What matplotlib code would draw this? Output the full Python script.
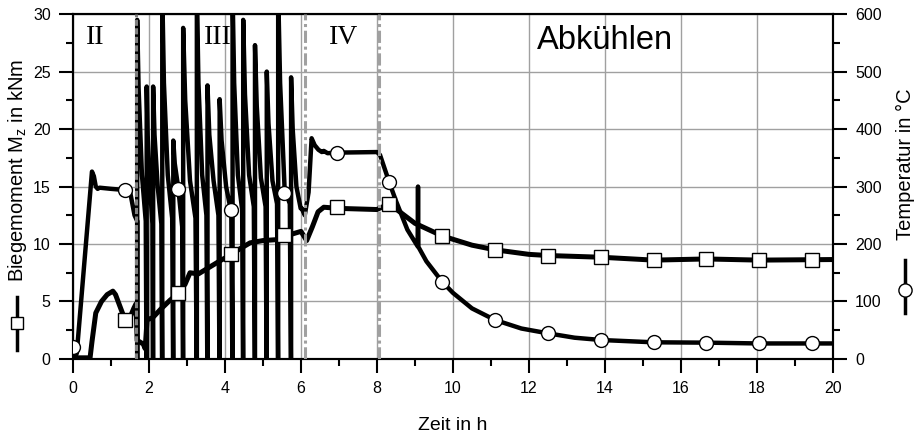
import numpy as np
import matplotlib
matplotlib.use("Agg")
import matplotlib.pyplot as plt
from matplotlib.lines import Line2D

plt.rcParams['font.family'] = ['Liberation Sans', 'DejaVu Sans']

# --- Biegemoment (kNm), Linie ---
mom_t = [0, 0.08, 0.45, 0.5, 0.6, 0.75, 0.9, 1.05, 1.12, 1.37, 1.5, 1.6, 1.66,
         1.69, 1.75, 1.85, 1.9, 1.95, 2.1, 2.3, 2.55, 2.77, 2.95, 3.08, 3.3, 3.6,
         3.9, 4.18, 4.4, 4.66, 5.0, 5.45, 5.7, 6.0, 6.15, 6.3, 6.45, 6.6, 7.0,
         8.0, 8.32, 8.6, 9.0, 9.72, 10.5, 11.1, 12.0, 12.5, 13.9, 15.28, 16.67,
         18.06, 20]
mom_v = [0.8, 0.1, 0.1, 1.5, 4.0, 5.0, 5.6, 5.9, 5.6, 3.4, 3.6, 4.4, 4.8,
         1.6, 1.5, 1.3, 0.9, 3.4, 3.6, 4.3, 5.1, 5.7, 6.5, 7.5, 7.4, 8.0,
         8.6, 9.1, 9.6, 10.1, 10.3, 10.4, 10.8, 11.1, 10.3, 11.5, 12.8, 13.2, 13.1,
         13.0, 13.5, 12.8, 11.8, 10.7, 9.9, 9.5, 9.1, 9.0, 8.85, 8.6, 8.7,
         8.6, 8.65]

# --- Temperatur (°C), Phase II ---
tem2_t = [0, 0.07, 0.1, 0.5, 0.55, 0.6, 0.65, 0.7, 1.0, 1.37, 1.5, 1.62, 1.69]
tem2_v = [20, 5, 10, 326, 318, 300, 296, 298, 296, 294, 292, 250, 240]

# Phase III: Zyklen (Start, Spitze, Knick, Mitte, Ende)
cyc_t = [1.69, 1.94, 2.11, 2.35, 2.64, 2.90, 3.26, 3.54, 3.86, 4.20, 4.48, 4.79, 5.10, 5.40, 5.74]
cyc_peak = [590, 474, 474, 640, 380, 576, 640, 476, 452, 640, 590, 546, 500, 640, 490]
cyc_knee = [470, 390, 390, 480, 340, 450, 480, 390, 380, 480, 460, 440, 410, 480, 400]
cyc_mid = [320, 300, 300, 320, 298, 310, 320, 310, 300, 320, 320, 315, 310, 295, 300]
cyc_end = [240, 235, 235, 245, 230, 245, 250, 250, 255, 260, 265, 265, 270, 270, 262]
cyc_stop = 6.02

# Phase IV + Abkühlen
tem4_t = [6.1, 6.2, 6.28, 6.36, 6.46, 6.55, 6.6, 6.7, 6.94, 8.0, 8.08, 8.32, 8.5,
          8.8, 9.07, 9.08, 9.09, 9.3, 9.72, 10.0, 10.5, 11.1, 11.8, 12.5, 13.2,
          13.9, 15.28, 16.67, 18.06, 20]
tem4_v = [250, 290, 384, 372, 364, 360, 362, 358, 359, 360, 355, 308, 275,
          225, 196, 300, 195, 170, 134, 115, 88, 68, 53, 44.6, 37,
          33, 29, 28.4, 27, 27]

# Marker
mk_t = [0, 1.37, 2.77, 4.17, 5.55, 6.94, 8.32, 9.72, 11.1, 12.5, 13.9, 15.28, 16.67, 18.06, 19.45]
mk_temp = [20, 294, 296, 260, 288, 359, 308, 134, 68, 44.6, 33, 29, 28.4, 27, 27]
mk_mom_t = mk_t[1:]
mk_mom = [3.4, 5.7, 9.1, 10.8, 13.2, 13.5, 10.7, 9.5, 9.0, 8.85, 8.6, 8.7, 8.6, 8.6]

phase_x = [1.67, 6.1, 8.05]
phase_lbl = ['II', 'III', 'IV']
phase_lbl_x = [0.59, 3.80, 7.11]

# Temperaturkurve zusammensetzen
tem_t = list(tem2_t)
tem_v = list(tem2_v)
for i in range(len(cyc_t)):
    t0 = cyc_t[i]
    t1 = cyc_t[i + 1] if i + 1 < len(cyc_t) else cyc_stop
    d = t1 - t0
    tem_t += [t0, t0, t0 + 0.15 * d, t0 + 0.5 * d, t0 + 0.9 * d]
    tem_v += [0, cyc_peak[i], cyc_knee[i], cyc_mid[i], cyc_end[i]]
    if i + 1 < len(cyc_t):
        tem_t += [t1 - 0.006]
        tem_v += [0]
    else:
        tem_t += [t1]
        tem_v += [cyc_end[i]]
tem_t += tem4_t
tem_v += tem4_v

fig = plt.figure(figsize=(9.19, 4.41), dpi=100)
ax = fig.add_axes([0.0794, 0.186, 0.827, 0.782])
ax2 = ax.twinx()

ax.set_xlim(0, 20)
ax.set_ylim(0, 30)
ax2.set_ylim(0, 600)

ax.set_xticks(np.arange(0, 21, 2))
ax.set_xticks(np.arange(1, 20, 2), minor=True)
ax.set_yticks(np.arange(0, 31, 5))
ax.set_yticks(np.arange(2.5, 30, 5), minor=True)
ax2.set_yticks(np.arange(0, 601, 100))
ax2.set_yticks(np.arange(50, 600, 100), minor=True)

ax.grid(True, which='major', color='#a0a0a0', lw=1.0)
ax.set_axisbelow(True)

ax.tick_params(axis='both', which='major', direction='out', length=10, width=1.5,
               labelsize=11.5, pad=6)
ax.tick_params(axis='both', which='minor', direction='out', length=5, width=1.5)
ax2.tick_params(axis='y', which='major', direction='out', length=10, width=1.5,
                labelsize=11.5, pad=6)
ax2.tick_params(axis='y', which='minor', direction='out', length=5, width=1.5)

for a in (ax, ax2):
    for s in a.spines.values():
        s.set_linewidth(1.5)
        s.set_color('black')

ax.plot(mom_t, mom_v, color='black', lw=3.6, solid_joinstyle='round')
ax2.plot(tem_t, tem_v, color='black', lw=3.2, solid_joinstyle='round')

# Phasengrenzen
ax2.axvline(phase_x[0], color='#808080', lw=2.2, ls=(0, (2, 0.8)), zorder=4)
for px in phase_x[1:]:
    ax2.axvline(px, color='#a0a0a0', lw=2.2, ls=(0, (4, 1.2, 1, 1.2)), zorder=4)

# Marker
ax2.plot(mk_mom_t, mk_mom, ls='none', marker='s', ms=9.5, mfc='white', mec='black',
         mew=1.0, transform=ax.transData, zorder=5)
ax2.plot(mk_t, mk_temp, ls='none', marker='o', ms=10, mfc='white', mec='black',
         mew=1.0, zorder=5)

for lx, lt in zip(phase_lbl_x, phase_lbl):
    ax.text(lx, 28.0, lt, ha='center', va='center', fontsize=20,
            family=['Liberation Serif', 'DejaVu Serif'])
ax.text(14.0, 27.7, 'Abkühlen', ha='center', va='center', fontsize=23.5)

ax.set_xlabel('Zeit in h', fontsize=14, labelpad=15)

# Achsentitel mit Legendensymbol
fig.text(0.019, 0.6145, 'Biegemoment M$_\\mathregular{z}$ in kNm', rotation=90,
         ha='center', va='center', fontsize=14.5)
fig.add_artist(Line2D([0.019, 0.019], [1 - 350 / 441, 1 - 297 / 441],
                      transform=fig.transFigure, color='black', lw=2.5))
fig.add_artist(Line2D([0.019], [1 - 323 / 441], transform=fig.transFigure,
                      marker='s', ms=9, mfc='white', mec='black', mew=1.0))

fig.text(0.985, 0.628, 'Temperatur in °C', rotation=90,
         ha='center', va='center', fontsize=14.5)
fig.add_artist(Line2D([0.985, 0.985], [1 - 313 / 441, 1 - 260 / 441],
                      transform=fig.transFigure, color='black', lw=2.5))
fig.add_artist(Line2D([0.985], [1 - 290 / 441], transform=fig.transFigure,
                      marker='o', ms=9.5, mfc='white', mec='black', mew=1.0))

fig.savefig('out.png', dpi=100)
